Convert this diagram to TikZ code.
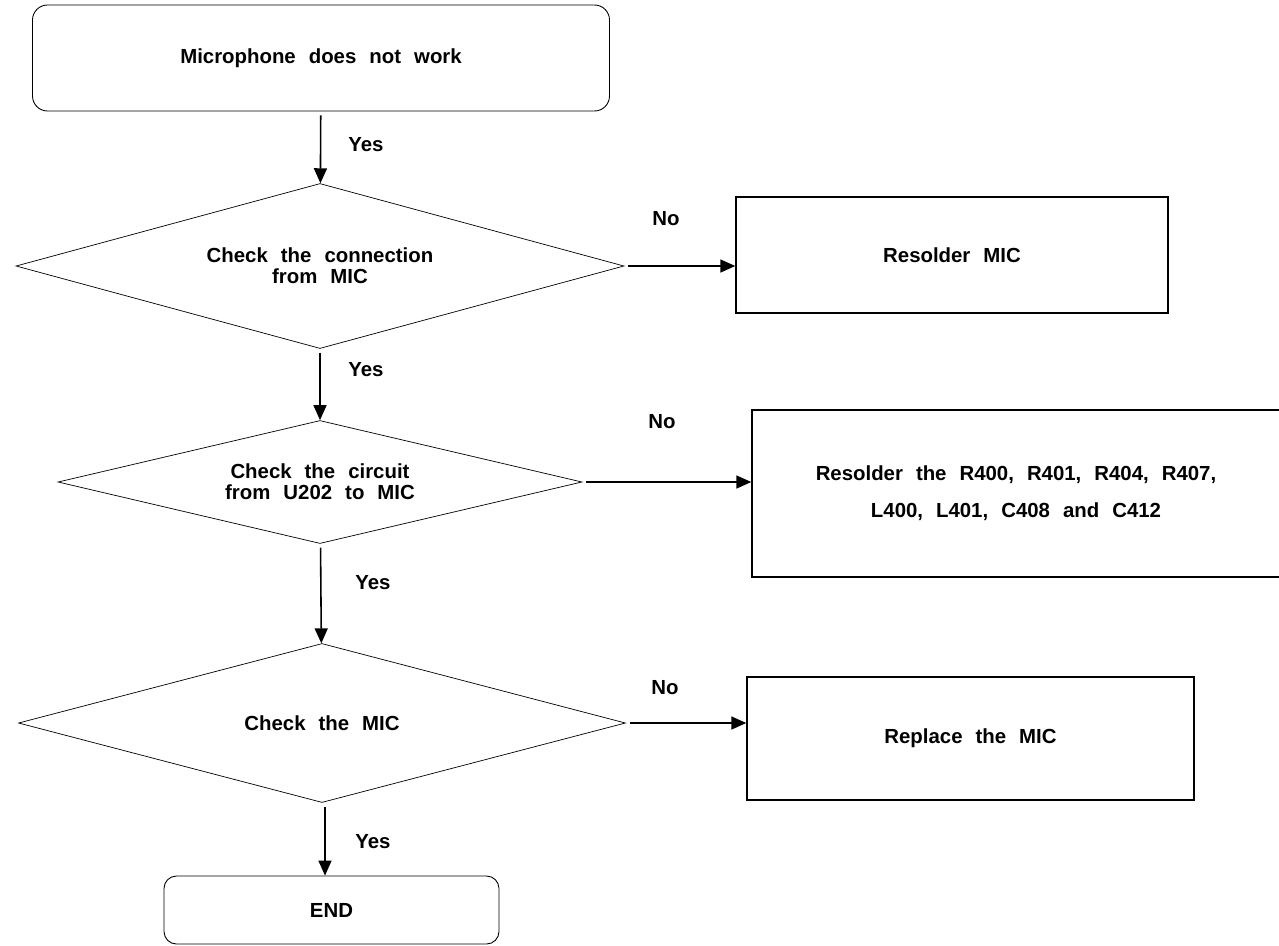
\documentclass[tikz,border=0pt]{standalone}
\usepackage{fontspec}
\setmainfont{Liberation Sans}[WordSpace=2.3]
\usetikzlibrary{shapes.geometric,arrows.meta}

\begin{document}
\begin{tikzpicture}[
    font=\fontsize{11.6pt}{12pt}\selectfont\bfseries,
    term/.style={draw, rounded corners=0.3cm, line width=0.5pt, align=center},
    box/.style={draw, line width=0.8pt, align=center},
    decision/.style={draw, diamond, line width=0.4pt, aspect=3.6, inner sep=0pt, align=center},
    arr/.style={line width=0.9pt, -{Triangle[length=0.3cm, width=0.26cm]}, shorten <=0.08cm},
    lbl/.style={inner sep=0pt}
    ]
\useasboundingbox (0,0) rectangle (25.58,-18.9);

\node[term, minimum width=11.54cm, minimum height=2.12cm] (start) at (6.42,-1.16) {Microphone does not work};

\node[decision, minimum width=12.16cm, minimum height=3.3cm] (conn) at (6.40,-5.32) {Check the connection\\from MIC};
\node[decision, minimum width=10.48cm, minimum height=2.46cm] (circ) at (6.40,-9.64) {Check the circuit\\from U202 to MIC};
\node[decision, minimum width=12.14cm, minimum height=3.18cm] (mic) at (6.44,-14.46) {Check the MIC};
\node[term, rounded corners=0.25cm, minimum width=6.7cm, minimum height=1.36cm] (end) at (6.63,-18.2) {END};

\node[box, minimum width=8.64cm, minimum height=2.32cm] (resmic) at (19.04,-5.1) {Resolder MIC};
\node[box, minimum width=10.56cm, minimum height=3.34cm] (resall) at (20.32,-9.87) {Resolder the R400, R401, R404, R407,\\[9pt]L400, L401, C408 and C412};
\node[box, minimum width=8.94cm, minimum height=2.46cm] (repmic) at (19.41,-14.77) {Replace the MIC};

% yes branch
\draw[arr] (start) -- (conn);
\draw[arr] (conn) -- (circ);
\draw[arr] (circ) -- (mic);
\draw[arr] ([xshift=0.06cm]mic.south) -- ([xshift=0.06cm]mic.south |- end.north);

% no branch
\draw[arr] (conn.east) -- (conn.east -| resmic.west);
\draw[arr] (circ.east) -- (circ.east -| resall.west);
\draw[arr] (mic.east) -- (mic.east -| repmic.west);

\node[lbl] (yes1) at (7.32,-2.9) {Yes};
\node[lbl] (yes2) at (7.32,-7.4) {Yes};
\node[lbl] (yes3) at (7.46,-11.66) {Yes};
\node[lbl] (yes4) at (7.46,-16.84) {Yes};
\node[lbl] (no1) at (13.32,-4.38) {No};
\node[lbl] (no2) at (13.24,-8.44) {No};
\node[lbl] (no3) at (13.3,-13.76) {No};
\end{tikzpicture}
\end{document}
